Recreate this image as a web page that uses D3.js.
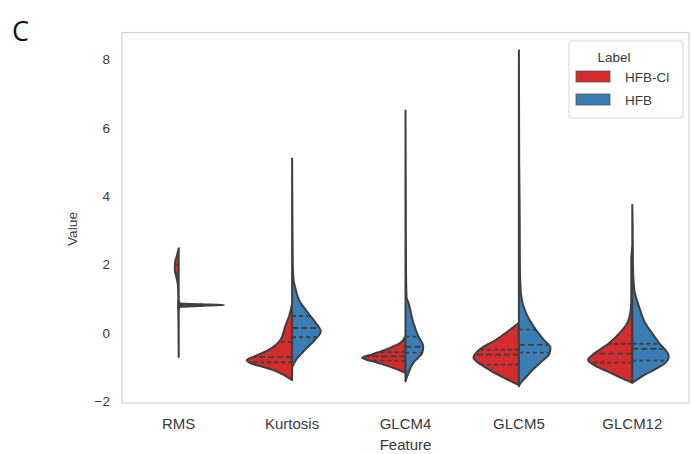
<!DOCTYPE html>
<html>
<head>
<meta charset="utf-8">
<script src="https://cdn.jsdelivr.net/npm/d3@7"></script>
<style>
  html, body { margin: 0; padding: 0; background: #fff; }
  svg { display: block; }
</style>
</head>
<body>
<svg id="chart" width="692" height="454"></svg>
<script>
// Feature categories and label groups
const categories = ["RMS", "Kurtosis", "GLCM4", "GLCM5", "GLCM12"];
const groups = ["HFB-Cl", "HFB"];
const groupColors = ["#d42b2d", "#3b7eb5"];
const yTicks = [-2, 0, 2, 4, 6, 8];

// Kernel density profile of each half: [value, density]
const densityHFBCl = [
  [[2.48, 0], [2.3, 1.5], [2.1, 3.5], [1.85, 4], [1.65, 2.5], [1.4, 0.8], [1.0, 0.4], [0.8, 0.6], [0.5, 0.3], [0, 0.2], [-0.7, 0]],
  [[0.87, 0], [0.5, 3], [0.2, 7], [-0.2, 12], [-0.4, 19], [-0.58, 30], [-0.7, 40], [-0.79, 46], [-0.9, 40], [-1.0, 28], [-1.08, 19], [-1.2, 10], [-1.3, 4], [-1.37, 0]],
  [[-0.09, 0], [-0.3, 6], [-0.48, 20], [-0.62, 34], [-0.72, 44], [-0.85, 30], [-1.0, 14], [-1.16, 0]],
  [[0.3, 0], [0.1, 9], [-0.19, 23], [-0.48, 40], [-0.72, 46], [-0.85, 42], [-1.07, 30], [-1.26, 18], [-1.45, 5], [-1.52, 0]],
  [[2.5, 0], [2.2, 1], [1.6, 1], [1.0, 1], [0.6, 2], [0.3, 5], [0, 13], [-0.3, 24], [-0.48, 33], [-0.65, 41], [-0.78, 45], [-0.95, 38], [-1.11, 26], [-1.3, 12], [-1.45, 0]]
];
const densityHFB = [
  [[0.95, 0], [0.88, 1], [0.845, 20], [0.82, 46], [0.795, 20], [0.76, 1], [0.7, 0]],
  [[5.1, 0], [3.0, 0.4], [2.0, 0.7], [1.55, 1.5], [1.35, 3], [0.97, 7], [0.6, 16], [0.3, 24], [0.05, 29], [-0.2, 23], [-0.49, 13], [-0.78, 4], [-1.0, 0]],
  [[6.5, 0], [4.0, 0.3], [2.0, 0.5], [1.06, 1], [0.89, 3], [0.3, 8], [-0.09, 13], [-0.39, 18], [-0.57, 17], [-0.86, 8], [-1.16, 3], [-1.41, 0]],
  [[8.26, 0], [5.0, 0.3], [3.5, 0.8], [2.0, 1], [1.17, 2], [0.6, 7], [0.19, 15], [-0.19, 25], [-0.43, 32], [-0.6, 31], [-0.86, 22], [-1.1, 13], [-1.26, 8], [-1.45, 2], [-1.55, 0]],
  [[3.75, 0], [3.0, 0.4], [2.0, 0.6], [1.27, 2], [0.76, 7], [0.3, 13], [0.0, 20], [-0.28, 27], [-0.68, 37], [-0.86, 34], [-1.07, 22], [-1.26, 10], [-1.45, 0]]
];

// Quartiles of each half: [Q3, median, Q1]
const quartHFBCl = [
  [1.1, 1.75, 2.0],
  [-0.26, -0.70, -0.85],
  [-0.55, -0.68, -0.80],
  [-0.48, -0.63, -0.92],
  [-0.31, -0.60, -0.86]
];
const quartHFB = [
  [0.80, 0.82, 0.84],
  [0.50, 0.15, -0.12],
  [-0.10, -0.40, -0.57],
  [0.10, -0.34, -0.57],
  [-0.31, -0.46, -0.80]
];

const svg = d3.select("#chart");
const W = 692, H = 454;
const margin = { left: 122, right: 3, top: 32.5, bottom: 51 };
const plotL = margin.left, plotR = W - margin.right;
const plotT = margin.top, plotB = H - margin.bottom;

const x = d3.scaleBand().domain(categories).range([plotL, plotR]).padding(0);
const y = d3.scaleLinear().domain([-2.04, 8.78]).range([plotB, plotT]);
const w = d3.scaleLinear().domain([0, 46]).range([0, x.bandwidth() * 0.4]);

const fontFam = "'Liberation Sans', Arial, sans-serif";
const textCol = "#3a3a3a";

// Panel letter
svg.append("text")
  .attr("x", 12).attr("y", 41)
  .attr("font-family", "'Open Sans', 'Noto Sans', sans-serif")
  .attr("font-size", 27)
  .attr("fill", "#111")
  .text("C");

// Axes frame
svg.append("rect")
  .attr("x", plotL).attr("y", plotT)
  .attr("width", plotR - plotL).attr("height", plotB - plotT)
  .attr("fill", "none").attr("stroke", "#d2d2d2").attr("stroke-width", 1.2);

// Y axis ticks (labels only)
const yAxis = d3.axisLeft(y).tickValues(yTicks).tickSize(0).tickPadding(12)
  .tickFormat(d => d < 0 ? "\u2212" + Math.abs(d) : String(d));
const gy = svg.append("g").attr("transform", `translate(${plotL},0)`).call(yAxis);
gy.select(".domain").remove();
gy.selectAll("text").attr("font-family", fontFam).attr("font-size", 13.5).attr("fill", textCol);

// X axis ticks (labels only)
const xAxis = d3.axisBottom(x).tickSize(0).tickPadding(15);
const gx = svg.append("g").attr("transform", `translate(0,${plotB})`).call(xAxis);
gx.select(".domain").remove();
gx.selectAll("text").attr("font-family", fontFam).attr("font-size", 15).attr("fill", textCol);

// Axis titles
svg.append("text")
  .attr("x", (plotL + plotR) / 2).attr("y", 450)
  .attr("text-anchor", "middle")
  .attr("font-family", fontFam).attr("font-size", 15).attr("fill", textCol)
  .text("Feature");
svg.append("text")
  .attr("transform", `translate(77,229) rotate(-90)`)
  .attr("text-anchor", "middle")
  .attr("font-family", fontFam).attr("font-size", 13.7).attr("fill", textCol)
  .text("Value");

// Interpolated density at a given value
function densityAt(profile, v) {
  for (let i = 0; i < profile.length - 1; i++) {
    const [v0, d0] = profile[i], [v1, d1] = profile[i + 1];
    if ((v <= v0 && v >= v1)) {
      const t = (v0 - v) / (v0 - v1 || 1);
      return d0 + t * (d1 - d0);
    }
  }
  return 0;
}

const outline = "#3f3f3f";
const violins = svg.append("g");

categories.forEach((cat, i) => {
  const cx = x(cat) + x.bandwidth() / 2;
  [densityHFBCl[i], densityHFB[i]].forEach((profile, g) => {
    const side = g === 0 ? -1 : 1;
    const area = d3.area()
      .curve(d3.curveMonotoneY)
      .y(d => y(d[0]))
      .x0(cx)
      .x1(d => cx + side * w(d[1]));
    violins.append("path")
      .datum(profile)
      .attr("d", area)
      .attr("fill", groupColors[g])
      .attr("stroke", outline)
      .attr("stroke-width", 2)
      .attr("stroke-linejoin", "round");

    const quarts = g === 0 ? quartHFBCl[i] : quartHFB[i];
    quarts.forEach((q, k) => {
      const len = w(densityAt(profile, q));
      if (len < 2) return;
      violins.append("line")
        .attr("x1", cx).attr("x2", cx + side * len)
        .attr("y1", y(q)).attr("y2", y(q))
        .attr("stroke", outline)
        .attr("stroke-width", 1.8)
        .attr("stroke-dasharray", k === 1 ? "6,3" : "4,3");
    });
  });
});

// Legend
const lg = svg.append("g").attr("transform", "translate(569,41)");
lg.append("rect")
  .attr("width", 114).attr("height", 77).attr("rx", 3)
  .attr("fill", "#fff").attr("fill-opacity", 0.85)
  .attr("stroke", "#d5d5d5").attr("stroke-width", 1);
lg.append("text")
  .attr("x", 45).attr("y", 21)
  .attr("text-anchor", "middle")
  .attr("font-family", fontFam).attr("font-size", 13.5).attr("fill", textCol)
  .text("Label");
groups.forEach((name, g) => {
  const row = lg.append("g").attr("transform", `translate(7,${30 + g * 23})`);
  row.append("rect")
    .attr("width", 34).attr("height", 11)
    .attr("fill", groupColors[g]).attr("stroke", "#555").attr("stroke-width", 0.8);
  row.append("text")
    .attr("x", 49).attr("y", 10.5)
    .attr("font-family", fontFam).attr("font-size", 13.5).attr("fill", textCol)
    .text(name);
});
</script>
</body>
</html>
